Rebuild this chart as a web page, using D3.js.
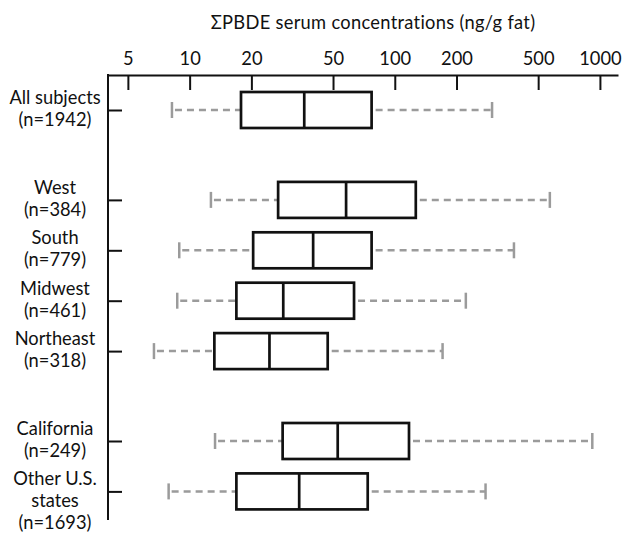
<!DOCTYPE html>
<html lang="en">
<head>
  <meta charset="UTF-8">
  <title>PBDE serum concentrations</title>
  <style>
    body { margin: 0; background: #fff; }
    text { font-family: Lato, "Open Sans", sans-serif; }
  </style>
</head>
<body>
    <script src="https://cdn.jsdelivr.net/npm/d3@7"></script>
    <script>
      const width = 629
      const height = 538

      // rows, top to bottom
      const categories = ["All subjects", "West", "South", "Midwest", "Northeast", "California", "Other U.S. states"]
      const nameLines = [["All subjects"], ["West"], ["South"], ["Midwest"], ["Northeast"], ["California"], ["Other U.S.", "states"]]
      const nValues = [1942, 384, 779, 461, 318, 249, 1693]
      const groups = [0, 1, 1, 1, 1, 2, 2]

      // box plot values (ng/g fat)
      const whiskerLow  = [8.2, 12.7, 8.9, 8.7, 6.7, 13.3, 7.9]
      const q1          = [17.8, 27.0, 20.4, 16.9, 13.2, 28.4, 16.9]
      const median      = [36.2, 57.9, 40.0, 28.6, 24.5, 52.7, 34.2]
      const q3          = [77.1, 126.6, 77.1, 63.3, 47.1, 117.3, 73.8]
      const whiskerHigh = [298, 570, 381, 222, 171, 918, 277]

      const tickValues = [5, 10, 20, 50, 100, 200, 500, 1000]
      const title = "ΣPBDE serum concentrations (ng/g fat)"

      const rows = categories.map((c, i) => ({
        name: c, lines: nameLines[i].concat(["(n=" + nValues[i] + ")"]), group: groups[i],
        lo: whiskerLow[i], q1: q1[i], med: median[i], q3: q3[i], hi: whiskerHigh[i]
      }))

      const axisY = 75
      const axisX = 108
      const step = 50.4, gap = 39.5, firstY = 110
      const boxH = 36
      const fontSize = 18.3, lineH = 22

      const x = d3.scaleLog().domain([4, 1225]).range([axisX, 618])
      const y = d3.scaleOrdinal()
        .domain(categories)
        .range(rows.map((d, i) => firstY + i * step + d.group * gap))

      const svg = d3.select("body")
        .append("svg")
        .attr("width", width)
        .attr("height", height)

      svg.append("text")
        .attr("x", 373)
        .attr("y", 29)
        .attr("text-anchor", "middle")
        .attr("font-size", fontSize)
        .attr("letter-spacing", 0.3)
        .attr("fill", "#111")
        .text(title)

      // top axis, ticks hanging down into the plot
      const gx = svg.append("g")
        .attr("transform", "translate(0," + axisY + ")")
        .call(d3.axisTop(x).tickValues(tickValues).tickFormat(d3.format("d"))
          .tickSizeInner(-15).tickSizeOuter(0).tickPadding(10))
      gx.select(".domain").attr("stroke", "#111").attr("stroke-width", 2)
      gx.selectAll(".tick line").attr("stroke", "#111").attr("stroke-width", 2)
      gx.selectAll(".tick text")
        .attr("font-family", "Lato")
        .attr("font-size", fontSize)
        .attr("fill", "#111")

      // left axis
      svg.append("line")
        .attr("x1", axisX).attr("x2", axisX)
        .attr("y1", axisY - 1).attr("y2", 520)
        .attr("stroke", "#111").attr("stroke-width", 2)

      const gy = svg.append("g")
        .attr("transform", "translate(" + axisX + ",0)")
        .call(d3.axisRight(y).tickSize(14).tickFormat(""))
      gy.select(".domain").remove()
      gy.selectAll(".tick line").attr("stroke", "#111").attr("stroke-width", 2)

      // row labels
      const labels = svg.append("g").selectAll("text")
        .data(rows)
        .enter()
        .append("text")
        .attr("text-anchor", "middle")
        .attr("font-size", fontSize)
        .attr("fill", "#111")
        .attr("y", d => y(d.name) - 6)
      labels.selectAll("tspan")
        .data(d => d.lines)
        .enter()
        .append("tspan")
        .attr("x", 55)
        .attr("dy", (d, i) => i === 0 ? 0 : lineH)
        .text(d => d)

      const box = svg.append("g").selectAll("g")
        .data(rows)
        .enter()
        .append("g")
        .attr("transform", d => "translate(0," + y(d.name) + ")")

      // whiskers
      box.append("line")
        .attr("x1", d => x(d.lo) + 3).attr("x2", d => x(d.q1))
        .attr("stroke", "#9b9b9b").attr("stroke-width", 2.5)
        .attr("stroke-dasharray", "7,5")
      box.append("line")
        .attr("x1", d => x(d.q3) + 4).attr("x2", d => x(d.hi))
        .attr("stroke", "#9b9b9b").attr("stroke-width", 2.5)
        .attr("stroke-dasharray", "7,5")
      box.selectAll(".cap")
        .data(d => [d.lo, d.hi])
        .enter()
        .append("line")
        .attr("class", "cap")
        .attr("x1", d => x(d)).attr("x2", d => x(d))
        .attr("y1", -8).attr("y2", 8)
        .attr("stroke", "#9b9b9b").attr("stroke-width", 2.5)

      box.append("rect")
        .attr("x", d => x(d.q1))
        .attr("y", -boxH / 2)
        .attr("width", d => x(d.q3) - x(d.q1))
        .attr("height", boxH)
        .attr("fill", "#fff")
        .attr("stroke", "#111")
        .attr("stroke-width", 2.7)
      box.append("line")
        .attr("x1", d => x(d.med)).attr("x2", d => x(d.med))
        .attr("y1", -boxH / 2).attr("y2", boxH / 2)
        .attr("stroke", "#111").attr("stroke-width", 2.7)
    </script>
</body>
</html>
